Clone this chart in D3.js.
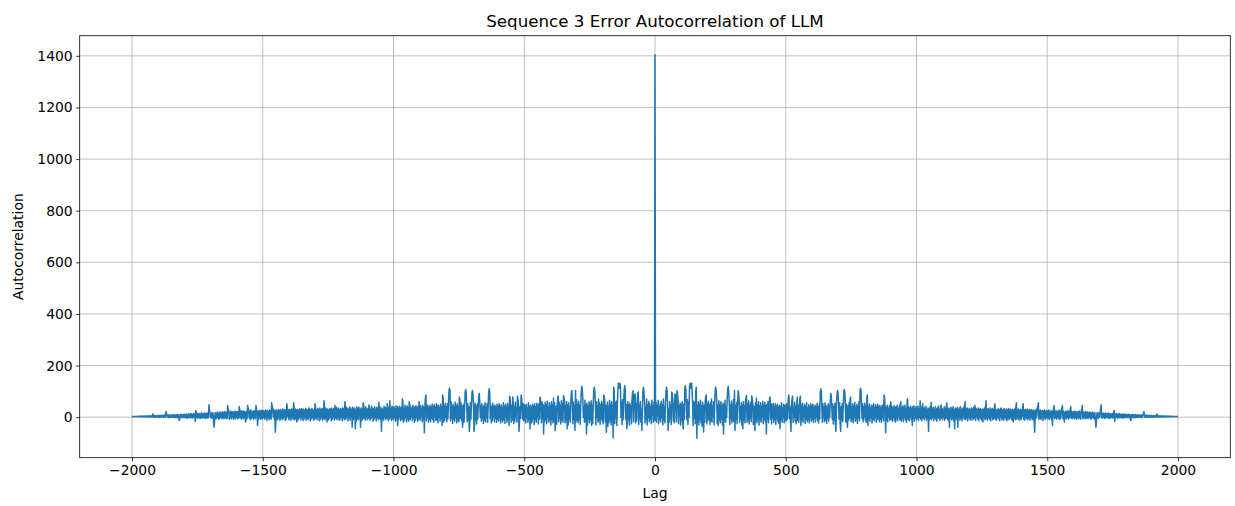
<!DOCTYPE html>
<html>
<head>
<meta charset="utf-8">
<script src="https://cdn.jsdelivr.net/npm/d3@7"></script>
<style>
  body { margin: 0; background: #fff; }
  svg text { font-family: "DejaVu Sans", sans-serif; fill: #000; }
</style>
</head>
<body>
<div id="chart"></div>
<script>
var title = "Sequence 3 Error Autocorrelation of LLM";
var xLabel = "Lag";
var yLabel = "Autocorrelation";

var xTicks = [-2000, -1500, -1000, -500, 0, 500, 1000, 1500, 2000];
var yTicks = [0, 200, 400, 600, 800, 1000, 1200, 1400];

// autocorrelation is symmetric so negative lags reuse these values
var lagStep = 2;
var acfHalf = [
  1404,
  -12, 58, -20, 45, 8, 66, -25, 40, -8, 52, -18, 62, 0, 48, -30, 70, -10, 38, -22, 55, 96, 116, 104, 42, -52,
  30, -20, 60, -5, 45, -28, 98, 92, 64, -15, 52, -22, 90, 86, 58, -18, 102, 96, 66, -25, 44, 2, 55, -30, 48,
  -12, 60, -20, -45, 50, -8, 110, 122, 104, 40, -10, 68, -28, 55, 0, 118, 131, 112, 124, 132, 100, 48, -32, 62, -5,
  56, -25, 104, 116, -81, 44, -18, 60, -30, 50, -10, 66, -22, 42, -35, 58, -12, -58, 46, -20, 64, 78, 86, -26, 50,
  -15, 62, -5, 48, -28, 56, -12, 70, -20, 44, 2, 60, -30, 52, 100, 117, 104, 58, -24, 46, -32, 64, -10, 50, -22,
  60, -6, 42, -30, 55, -65, 48, -14, 66, -20, 40, 0, 72, 108, 120, 96, 54, -28, 46, -5, 62, -22, 50, -12, 68,
  -18, 103, -52, 44, -8, 58, -25, 50, 103, 92, 62, -20, 40, -6, 56, -30, 48, -45, 60, -12, 44, -22, 66, 76, 84,
  -20, 52, -10, 64, -26, 46, -4, 58, -18, 82, 72, 50, -28, 42, 0, -52, 56, -15, 74, -22, 48, -8, 60, -30, 44,
  -12, 56, -20, 40, 2, 62, -25, 48, -10, 58, -18, 44, -65, 50, -6, 60, -22, 42, 70, 78, -8, 52, -26, 46, 0,
  54, -20, 40, -10, 52, -28, 44, -4, 50, -18, 38, -24, 46, -45, 42, -8, 56, -20, 36, 0, 50, -22, 44, -12, 48,
  -15, 52, -8, 44, 74, 86, -5, 40, -18, -55, 48, 70, 81, -20, 36, 0, 58, -16, 42, -25, 50, 78, -12, 46, -20,
  40, 72, 81, -32, 44, -12, 54, -20, 38, 2, 50, -24, 42, -8, 56, -18, 36, -10, 48, -22, 40, 0, 52, -16, 44,
  -8, 50, -20, 38, -4, 46, -19, 42, 0, 54, -14, 40, -22, 48, -6, 96, 110, 100, 44, -20, 52, -2, 40, -18, 56,
  -10, 46, -24, 38, -5, 52, -16, 44, 0, 58, 92, 84, 42, -8, 50, -26, 40, -12, 54, -30, -55, 48, 88, 103, 94,
  44, -8, 56, -22, -55, 40, -10, 52, -18, 46, 98, 107, 96, 42, -20, 50, -6, -39, 44, -14, 56, -4, 68, 78, -18,
  40, -10, 52, -22, 44, 0, 58, -16, 38, -8, 50, -24, 42, -4, 60, -14, 104, 112, 100, 46, -6, 52, -18, 40, 2,
  54, -12, 42, -20, 76, 86, -32, 40, -6, 50, -16, 36, 0, 46, -22, 44, -8, 52, -14, 38, 2, 48, -20, 40, -10,
  50, -4, 40, -18, 46, -8, 36, -20, 44, 0, 48, -14, 86, 76, 40, -60, 38, -10, 46, -18, 34, 2, 44, -12, 38,
  60, -8, 42, -16, 36, 0, 44, -12, 38, -20, 40, -4, 46, -14, 34, 2, 42, -10, 50, 60, -16, 36, -6, 44, -18,
  38, 0, 46, -12, 34, -20, 60, 71, -8, 40, -14, 36, 2, 42, -10, 34, -32, 40, -6, 44, -16, 32, 0, 40, -10,
  38, -6, 42, -12, 30, 0, 64, -8, 36, -14, 40, 52, -4, 34, -10, 38, 2, 42, -12, 30, -6, 36, -55, 32, -8,
  40, -4, 58, -10, 34, 0, 38, -14, 30, -2, 40, -8, 32, -16, 36, 2, 42, -6, 30, -12, 38, 47, -4, 34, -10,
  30, 0, 40, -12, 34, -4, 44, 56, -8, 32, -14, 36, -39, 30, 2, 38, -10, 34, -6, 40, -16, 28, -45, 36, -4,
  32, -10, 38, -39, 30, 0, 36, -12, 40, -4, 30, -14, 34, 2, 38, -8, 44, 60, -10, 32, -2, 36, -14, 30, 0,
  34, -8, 28, -12, 36, 0, 32, -10, 38, -4, 30, 45, -12, 34, 2, 28, -8, 36, -14, 30, 0, 34, -6, 28, -12,
  32, -19, 30, -2, 36, -10, 40, 64, -6, 30, -12, 34, 0, 28, -8, 36, -14, 30, 2, 34, -10, 28, -4, 38, 52,
  -8, 30, -12, 26, 0, 34, -6, 28, -14, 32, 2, 36, -10, 28, -4, 30, -12, 34, 0, 26, -8, 32, -14, 28, -2,
  34, -10, 28, 0, 32, -6, 26, -12, 30, -19, 28, -4, 32, -10, 40, 56, -8, 28, 0, 32, -12, 26, -4, 30, -10,
  28, 2, 36, 52, -8, 26, -12, 30, 0, 28, -6, 32, -10, 24, -2, 30, -12, 26, 0, 30, -8, 24, -10, 28, -20,
  -58, 26, -6, 30, 2, 36, 42, 56, -8, 24, -4, 28, -10, 22, 0, 26, -13, 24, -2, 28, -8, 22, 0, 26, -6,
  24, -4, 28, -8, 20, 0, 26, -10, 22, -32, 24, 30, 45, -6, 22, -2, 26, -8, 20, 0, 24, -6, 28, -10, 22,
  -2, 26, 36, 45, -6, 22, -8, -19, 20, 0, 24, -6, 20, -2, 26, -8, 22, 0, 28, 41, -4, 20, -6, 22, 0,
  20, -6, 24, -2, 18, -8, 22, 0, 20, -6, 24, -2, 18, -8, 26, 30, 45, -4, 20, -6, 18, 0, 22, -6, 18,
  -2, 20, -6, 16, 0, 20, -4, 18, -8, 16, 0, 20, -4, 14, -6, 18, -12, -39, -20, 16, -2, 18, -4, 14, 0,
  18, 30, 48, -2, 14, -4, 16, 0, 12, -5, 16, -2, 14, 0, 12, -4, 16, -2, 12, -5, 14, 0, 12, -3, 14,
  -2, 18, 26, -17, 12, -2, 14, 0, 10, -4, 12, 0, 14, -3, 10, 0, 12, -2, 10, -4, 12, 0, 10, -2, 11,
  0, 10, -2, 9, 1, 11, -3, 9, -6, -13, 8, 0, 10, -2, 9, 0, 8, -2, 10, 0, 8, -1, 9, 0, 8,
  -1, 8, 0, 9, -2, 7, 1, 9, 14, 22, 0, 8, 1, 7, -1, 8, 1, 6, 0, 7, 1, 6, -1, 7, 1,
  6, 0, 6, 1, 5, 0, 6, 1, 8, 13, 1, 5, 1, 5, 0, 5, 1, 5, 1, 4, 1, 5, 1, 4, 2,
  4, 1, 4, 2, 4, 1, 4, 2, 3, 2, 4, 2, 3, 2, 3, 2, 3, 2, 3, 2, 3, 2, 3, 2, 2
];

var width = 1235, height = 506;
var plot = { left: 79.7, right: 1230.3, top: 35.7, bottom: 457.7 };
var xLimits = [-2200, 2200];
var yLimits = [-157, 1478];

// full series, negative lags mirrored from the half
var series = [];
for (var i = acfHalf.length - 1; i >= 1; i--) {
  series.push({ lag: -i * lagStep, value: acfHalf[i] });
}
for (var j = 0; j < acfHalf.length; j++) {
  series.push({ lag: j * lagStep, value: acfHalf[j] });
}

var x = d3.scaleLinear().domain(xLimits).range([plot.left, plot.right]);
var y = d3.scaleLinear().domain(yLimits).range([plot.bottom, plot.top]);

var svg = d3.select("#chart").append("svg")
  .attr("width", width)
  .attr("height", height);

// grid
var grid = svg.append("g").attr("class", "grid");
grid.selectAll("line.vx").data(xTicks).enter().append("line")
  .attr("x1", function(d){ return x(d); })
  .attr("x2", function(d){ return x(d); })
  .attr("y1", plot.top)
  .attr("y2", plot.bottom)
  .attr("stroke", "#b0b0b0")
  .attr("stroke-width", 0.8);
grid.selectAll("line.hy").data(yTicks).enter().append("line")
  .attr("x1", plot.left)
  .attr("x2", plot.right)
  .attr("y1", function(d){ return y(d); })
  .attr("y2", function(d){ return y(d); })
  .attr("stroke", "#b0b0b0")
  .attr("stroke-width", 0.8);

// autocorrelation line
var line = d3.line()
  .x(function(d){ return x(d.lag); })
  .y(function(d){ return y(d.value); });

svg.append("defs").append("clipPath").attr("id", "clip")
  .append("rect")
  .attr("x", plot.left).attr("y", plot.top)
  .attr("width", plot.right - plot.left)
  .attr("height", plot.bottom - plot.top);

svg.append("path")
  .datum(series)
  .attr("clip-path", "url(#clip)")
  .attr("d", line)
  .attr("fill", "none")
  .attr("stroke", "#1f77b4")
  .attr("stroke-width", 1.5)
  .attr("stroke-linejoin", "round");

// axes
var xAxis = d3.axisBottom(x).tickValues(xTicks).tickFormat(d3.format("d")).tickSize(3.5).tickPadding(3.5);
var yAxis = d3.axisLeft(y).tickValues(yTicks).tickFormat(d3.format("d")).tickSize(3.5).tickPadding(3.5);

var gx = svg.append("g")
  .attr("transform", "translate(0," + plot.bottom + ")")
  .call(xAxis);
var gy = svg.append("g")
  .attr("transform", "translate(" + plot.left + ",0)")
  .call(yAxis);

[gx, gy].forEach(function(g){
  g.select(".domain").remove();
  g.selectAll(".tick line").attr("stroke", "#000").attr("stroke-width", 0.8);
  g.selectAll(".tick text")
    .attr("font-size", "13.9px")
    .attr("font-family", "DejaVu Sans, sans-serif")
    .attr("fill", "#000");
});

// spines
svg.append("rect")
  .attr("x", plot.left)
  .attr("y", plot.top)
  .attr("width", plot.right - plot.left)
  .attr("height", plot.bottom - plot.top)
  .attr("fill", "none")
  .attr("stroke", "#000")
  .attr("stroke-width", 0.8);

// labels
svg.append("text")
  .text(title)
  .attr("x", (plot.left + plot.right) / 2)
  .attr("y", 26.5)
  .attr("text-anchor", "middle")
  .attr("font-size", "16.7px");

svg.append("text")
  .text(xLabel)
  .attr("x", (plot.left + plot.right) / 2)
  .attr("y", 498)
  .attr("text-anchor", "middle")
  .attr("font-size", "13.9px");

svg.append("text")
  .text(yLabel)
  .attr("transform", "translate(23," + ((plot.top + plot.bottom) / 2) + ") rotate(-90)")
  .attr("text-anchor", "middle")
  .attr("font-size", "13.9px");
</script>
</body>
</html>
